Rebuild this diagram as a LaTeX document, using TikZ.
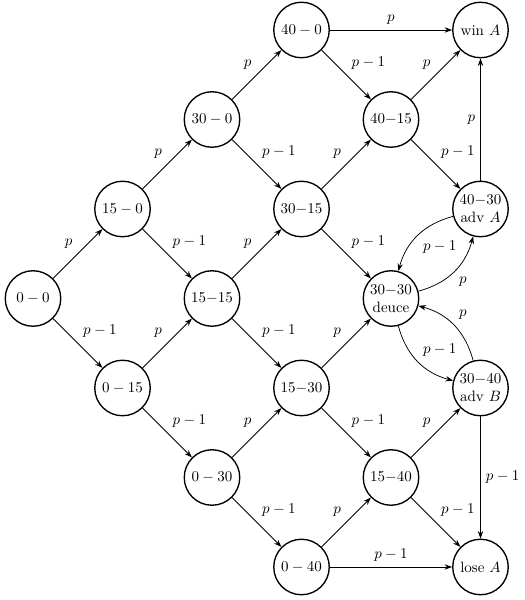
\documentclass[tikz,border=0pt]{standalone}
\usetikzlibrary{arrows.meta}
\begin{document}
\begin{tikzpicture}[x=0.6667pt,y=0.6667pt,
  state/.style={circle,draw,line width=0.9pt,minimum size=37pt,inner sep=1pt,align=center},
  tr/.style={-{Stealth[length=5pt,width=3.6pt]},line width=0.5pt},
  lab/.style={auto}]
\useasboundingbox (0,0) rectangle (524,600);
\node[state] (n00)   at (33,301.5)    {$0-0$};
\node[state] (n150)  at (122.5,391)   {$15-0$};
\node[state] (n015)  at (122.5,212)   {$0-15$};
\node[state] (n300)  at (212,480.5)   {$30-0$};
\node[state] (n1515) at (212,301.5)   {$15{-}15$};
\node[state] (n030)  at (212,122.5)   {$0-30$};
\node[state] (n400)  at (301.5,570)   {$40-0$};
\node[state] (n3015) at (301.5,391)   {$30{-}15$};
\node[state] (n1530) at (301.5,212)   {$15{-}30$};
\node[state] (n040)  at (301.5,33)    {$0-40$};
\node[state] (n4015) at (391,480.5)   {$40{-}15$};
\node[state] (deuce) at (391,301.5)   {$30{-}30$\\deuce};
\node[state] (n1540) at (391,122.5)   {$15{-}40$};
\node[state] (winA)  at (480.5,570)   {win $A$};
\node[state] (advA)  at (480.5,391)   {$40{-}30$\\adv $A$};
\node[state] (advB)  at (480.5,212)   {$30{-}40$\\adv $B$};
\node[state] (loseA) at (480.5,33)    {lose $A$};

\draw[tr] (n00) -- node[lab] {$p$} (n150);
\draw[tr] (n00) -- node[lab] {$p-1$} (n015);
\draw[tr] (n150) -- node[lab] {$p$} (n300);
\draw[tr] (n150) -- node[lab] {$p-1$} (n1515);
\draw[tr] (n015) -- node[lab] {$p$} (n1515);
\draw[tr] (n015) -- node[lab] {$p-1$} (n030);
\draw[tr] (n300) -- node[lab] {$p$} (n400);
\draw[tr] (n300) -- node[lab] {$p-1$} (n3015);
\draw[tr] (n1515) -- node[lab] {$p$} (n3015);
\draw[tr] (n1515) -- node[lab] {$p-1$} (n1530);
\draw[tr] (n030) -- node[lab] {$p$} (n1530);
\draw[tr] (n030) -- node[lab] {$p-1$} (n040);
\draw[tr] (n400) -- node[lab] {$p$} (winA);
\draw[tr] (n400) -- node[lab] {$p-1$} (n4015);
\draw[tr] (n3015) -- node[lab] {$p$} (n4015);
\draw[tr] (n3015) -- node[lab] {$p-1$} (deuce);
\draw[tr] (n1530) -- node[lab] {$p$} (deuce);
\draw[tr] (n1530) -- node[lab] {$p-1$} (n1540);
\draw[tr] (n040) -- node[lab] {$p$} (n1540);
\draw[tr] (n040) -- node[lab] {$p-1$} (loseA);
\draw[tr] (n4015) -- node[lab] {$p$} (winA);
\draw[tr] (n4015) -- node[lab] {$p-1$} (advA);
\draw[tr] (n1540) -- node[lab] {$p$} (advB);
\draw[tr] (n1540) -- node[lab] {$p-1$} (loseA);
\draw[tr] (advA) -- node[lab] {$p$} (winA);
\draw[tr] (advB) -- node[lab] {$p-1$} (loseA);
\draw[tr] (deuce) to[bend right] node[lab,swap] {$p$} (advA);
\draw[tr] (advA) to[bend right] node[lab] {$p-1$} (deuce);
\draw[tr] (deuce) to[bend right] node[lab] {$p-1$} (advB);
\draw[tr] (advB) to[bend right] node[lab,swap] {$p$} (deuce);
\end{tikzpicture}
\end{document}
